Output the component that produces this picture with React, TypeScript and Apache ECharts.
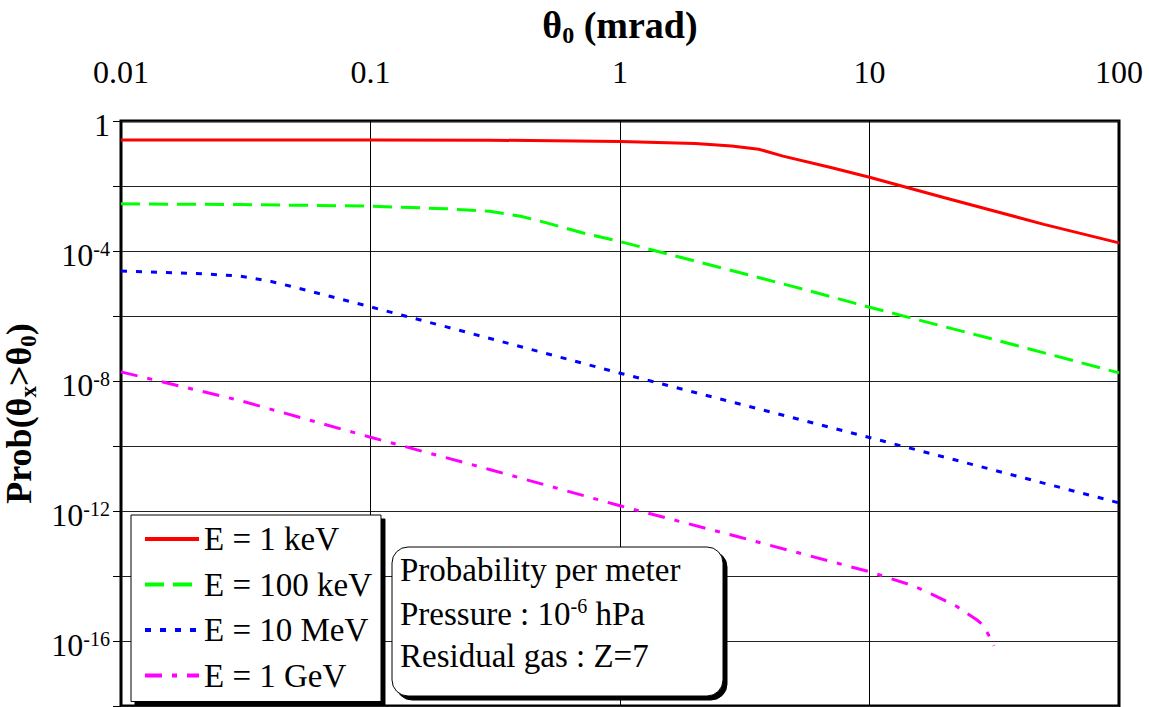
import React, { useEffect, useRef } from "react";
import * as echarts from "echarts";

const FONT = "'Liberation Serif', 'Times New Roman', serif";

const seriesNames = ["E = 1 keV", "E = 100 keV", "E = 10 MeV", "E = 1 GeV"];
const seriesColors = ["#ff0000", "#00ff00", "#0000ff", "#ff00ff"];

const redTheta = [0.01, 0.1, 0.3, 1, 2, 2.8, 3.6, 4.5, 7, 10, 20, 50, 100];
const redProb = [0.26, 0.26, 0.257, 0.234, 0.204, 0.17, 0.135, 0.0832, 0.0372, 0.0186, 0.00437, 6.6e-4, 1.78e-4];

const greenTheta = [0.01, 0.03, 0.1, 0.2, 0.3, 0.4, 0.5, 0.7, 1, 2, 5, 10, 30, 100];
const greenProb = [2.82e-3, 2.69e-3, 2.4e-3, 2.0e-3, 1.66e-3, 1.17e-3, 7.6e-4, 3.7e-4, 1.95e-4, 4.9e-5, 7.9e-6, 1.86e-6, 2.1e-7, 1.78e-8];

const blueTheta = [0.01, 0.02, 0.03, 0.04, 0.05, 0.07, 0.1, 0.2, 1, 10, 100];
const blueProb = [2.43e-5, 2.04e-5, 1.7e-5, 1.15e-5, 7.6e-6, 3.9e-6, 1.91e-6, 4.7e-7, 1.74e-8, 1.82e-10, 1.78e-12];

const magentaTheta = [0.01, 0.03, 0.1, 0.3, 1, 3, 10, 15, 18, 22.4, 26.9, 28.5, 30, 31.5];
const magentaProb = [1.91e-8, 2.5e-9, 1.86e-10, 1.9e-11, 1.45e-12, 1.58e-13, 1.35e-14, 5.0e-15, 2.63e-15, 1.15e-15, 4.5e-16, 3.1e-16, 1.55e-16, 7.1e-17];

const xTickLabels = ["0.01", "0.1", "1", "10", "100"];
const yLabelExponents = [0, -4, -8, -12, -16];

const infoLines = ["Probability per meter", "Pressure : 10", "-6", " hPa", "Residual gas : Z=7"];

const lineTypes: any[] = ["solid", [19, 9], [6, 9], [17, 10, 5, 10]];

export default function App() {
  const ref = useRef<HTMLDivElement>(null);
  useEffect(() => {
    if (!ref.current) return;
    const chart = echarts.init(ref.current, null, { renderer: "svg" });
    const thetas = [redTheta, greenTheta, blueTheta, magentaTheta];
    const probs = [redProb, greenProb, blueProb, magentaProb];
    const series = seriesNames.map((name, k) => ({
      name,
      type: "line",
      symbol: "none",
      showSymbol: false,
      data: thetas[k].map((t, i) => [t, probs[k][i]]),
      lineStyle: { color: seriesColors[k], width: 3, type: lineTypes[k] },
      itemStyle: { color: seriesColors[k], opacity: 0 },
      z: 3,
    }));
    const xNameRich = {
      b: { fontFamily: FONT, fontWeight: "bold", fontSize: 38, lineHeight: 44, color: "#000" },
      sub: { fontFamily: FONT, fontWeight: "bold", fontSize: 24, lineHeight: 24, verticalAlign: "bottom", color: "#000" },
    };
    const yNameRich = {
      b: { fontFamily: FONT, fontWeight: "bold", fontSize: 36, lineHeight: 42, color: "#000" },
      sub: { fontFamily: FONT, fontWeight: "bold", fontSize: 23, lineHeight: 23, verticalAlign: "bottom", color: "#000" },
    };
    const option: any = {
      animation: false,
      backgroundColor: "#fff",
      grid: {
        left: 121,
        right: 30,
        top: 121,
        bottom: 1,
        show: true,
        containLabel: false,
        outerBoundsMode: "none",
        borderColor: "#000",
        borderWidth: 3,
        backgroundColor: "transparent",
      },
      xAxis: {
        type: "log",
        logBase: 10,
        position: "top",
        min: 0.01,
        max: 100,
        name: "{b|θ}{sub|0}{b| (mrad)}",
        nameLocation: "middle",
        nameGap: 74,
        nameTextStyle: { color: "#000", fontFamily: FONT, fontWeight: "bold", fontSize: 38, rich: xNameRich },
        axisLine: { show: false },
        axisTick: { show: false },
        axisLabel: {
          color: "#000",
          fontFamily: FONT,
          fontSize: 32,
          margin: 33,
          formatter: (v: number) => {
            const e = Math.round(Math.log10(v));
            return xTickLabels[e + 2] ?? "";
          },
        },
        splitLine: { show: true, lineStyle: { color: "#000", width: 1 } },
      },
      yAxis: {
        type: "log",
        logBase: 10,
        min: 1e-18,
        max: 1,
        interval: 2,
        name: "{b|Prob(θ}{sub|x}{b|>θ}{sub|0}{b|)}",
        nameLocation: "middle",
        nameGap: 66,
        nameTextStyle: { color: "#000", fontFamily: FONT, fontWeight: "bold", fontSize: 36, rich: yNameRich },
        axisLine: { show: false },
        axisTick: { show: true, length: 8, inside: false, lineStyle: { color: "#000", width: 1 } },
        axisLabel: {
          color: "#000",
          fontFamily: FONT,
          fontSize: 32,
          margin: 11,
          padding: [8, 0, 0, 0],
          formatter: (v: number) => {
            const e = Math.round(Math.log10(v));
            if (yLabelExponents.indexOf(e) < 0) return "";
            if (e === 0) return "{b|1}";
            return "{b|10}{s|" + e + "}";
          },
          rich: {
            b: { fontFamily: FONT, fontSize: 32, lineHeight: 32, color: "#000" },
            s: { fontFamily: FONT, fontSize: 20, lineHeight: 20, verticalAlign: "top", color: "#000" },
          },
        },
        splitLine: { show: true, lineStyle: { color: "#222", width: 1 } },
      },
      legend: {
        show: true,
        orient: "vertical",
        left: 131,
        top: 515,
        itemWidth: 54,
        itemHeight: 14,
        itemGap: 9.5,
        padding: [6, 9, 8, 12],
        backgroundColor: "#fff",
        borderColor: "#000",
        borderWidth: 1,
        shadowColor: "#000",
        shadowOffsetX: 4,
        shadowOffsetY: 4,
        shadowBlur: 0,
        itemStyle: { opacity: 0 },
        lineStyle: { width: 4 },
        textStyle: { color: "#000", fontFamily: FONT, fontSize: 33, lineHeight: 36 },
        data: seriesNames,
      },
      graphic: [
        {
          type: "rect",
          shape: { x: 392, y: 547, width: 331, height: 149, r: 16 },
          style: { fill: "#fff", stroke: "#000", lineWidth: 1, shadowColor: "#000", shadowOffsetX: 4, shadowOffsetY: 4, shadowBlur: 0 },
          z: 100,
        },
        {
          type: "text",
          x: 400,
          y: 570,
          style: { text: infoLines[0], fill: "#000", font: "33px " + FONT, verticalAlign: "middle" },
          z: 101,
        },
        {
          type: "text",
          x: 400,
          y: 614,
          style: {
            text: "{n|" + infoLines[1] + "}{s|" + infoLines[2] + "}{n|" + infoLines[3] + "}",
            verticalAlign: "middle",
            rich: {
              n: { fontFamily: FONT, fontSize: 33, lineHeight: 36, fill: "#000" },
              s: { fontFamily: FONT, fontSize: 20, lineHeight: 22, verticalAlign: "top", fill: "#000" },
            },
          },
          z: 101,
        },
        {
          type: "text",
          x: 400,
          y: 656,
          style: { text: infoLines[4], fill: "#000", font: "33px " + FONT, verticalAlign: "middle" },
          z: 101,
        },
      ],
      series,
    };
    chart.setOption(option);
    return () => chart.dispose();
  }, []);
  return (
    <div
      ref={ref}
      style={{ position: "absolute", left: 0, top: 0, width: 1149, height: 707 }}
    />
  );
}
